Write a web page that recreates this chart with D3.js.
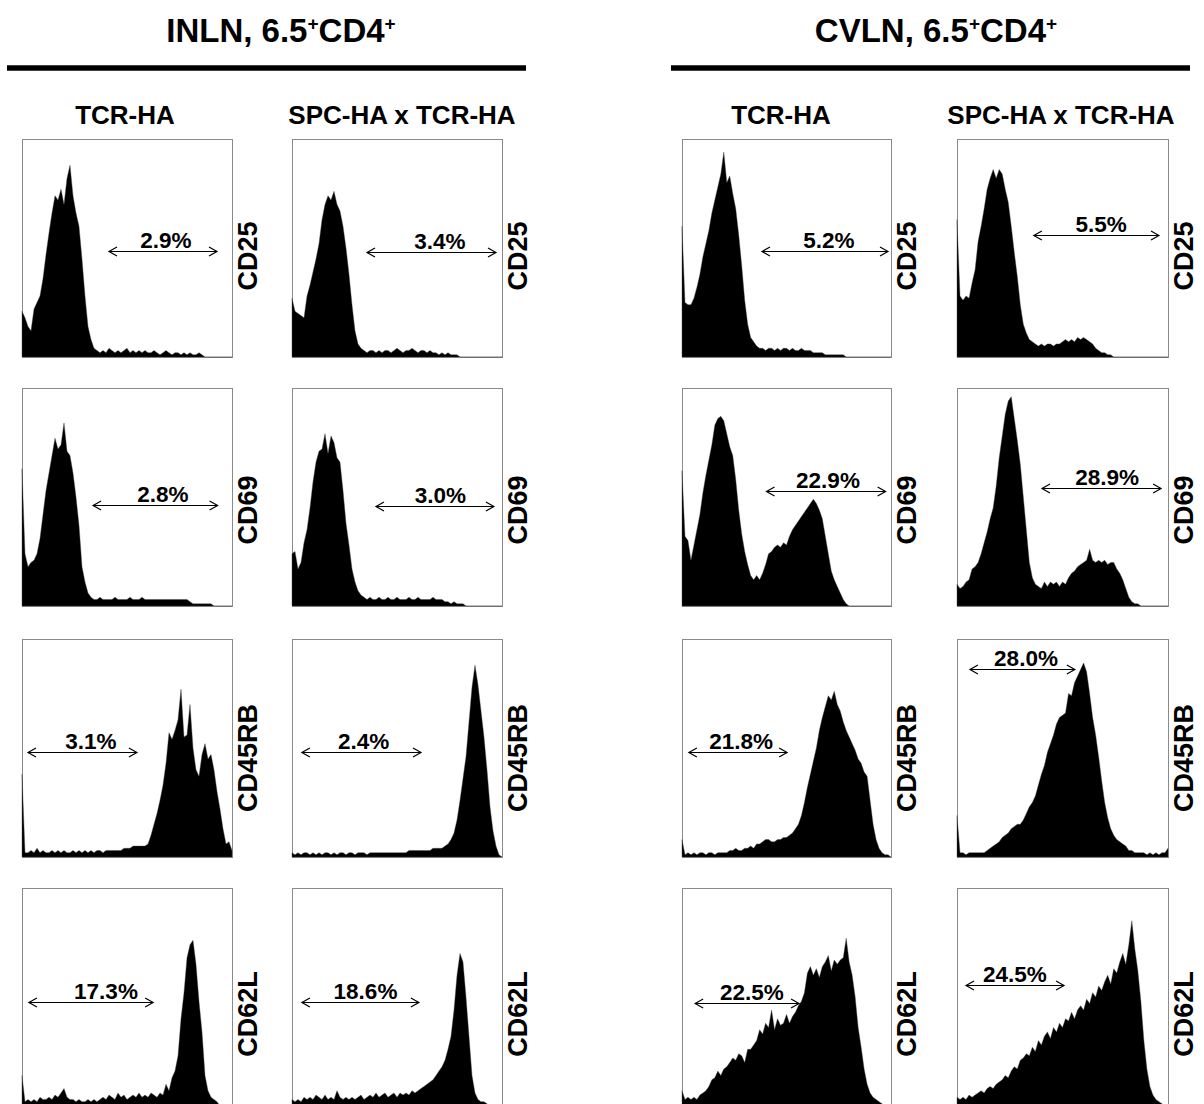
<!DOCTYPE html>
<html><head><meta charset="utf-8">
<script src="https://cdn.jsdelivr.net/npm/d3@7"></script>
<style>
body{margin:0;background:#fff}
svg{display:block}
text{font-family:"Liberation Sans",Arial,Helvetica,sans-serif;font-weight:bold;fill:#000}
</style>
</head><body>
<svg id="chart" width="1204" height="1104"></svg>
<script>
// ---------- DATA ----------
const tissues = ["INLN", "CVLN"];
const strains = ["TCR-HA", "SPC-HA x TCR-HA"];
const markers = ["CD25", "CD69", "CD45RB", "CD62L"];

// histogram counts (% of panel height), 71 channels each
const cd25_inln_tcr = [21,18,14,12,22,25,28,36,47,57,66,74,72,77,70,82,88,74,66,60,45,28,14,8,4,
 3,2,3,2,4,3,2,3,2,3,4,2,3,2,3,2,3,2,2,3,2,1,2,3,2,1,2,2,1,2,1,2,1,1,2,1,
 0,0,0,0,0,0,0,0,0,0];
const cd25_inln_spc = [27,21,20,19,18,28,33,39,45,52,63,70,74,72,76,70,67,60,50,38,24,12,6,4,
 3,2,3,3,2,3,2,3,3,2,3,4,3,2,3,3,4,3,2,3,3,2,3,2,
 2,1,2,1,2,1,1,1,
 0,0,0,0,0,0,0,0,0,0,0,0,0,0,0];
const cd25_cvln_tcr = [60,25,24,24,27,32,38,46,52,58,66,72,78,84,94,80,83,75,68,56,42,26,15,9,7,5,
 4,4,3,4,4,3,4,3,4,4,3,4,3,3,4,3,3,3,
 2,2,2,2,
 1,1,1,1,1,1,1,
 0,0,0,0,0,0,0,0,0,0,0,0,0,0,0,0];
const cd25_cvln_spc = [63,28,26,28,27,34,40,53,60,68,
 77,82,86,82,86,84,77,71,60,48,
 37,24,15,11,8,7,6,5,6,5,
 6,6,5,6,6,7,8,7,8,7,
 9,8,9,8,7,6,4,3,2,2,
 1,1,0,0,0,0,0,0,0,0,
 0,0,0,0,0,0,0,0,0,0,0];

const cd69_inln_tcr = [63,24,18,20,21,24,31,42,53,61,
 69,77,72,74,84,71,69,61,50,37,
 18,11,6,4,3,
 3,4,3,3,3,3,4,3,3,3,3,4,3,3,3,4,3,3,3,3,3,3,3,3,3,3,3,3,3,3,3,
 2,1,1,1,1,1,1,1,
 0,0,0,0,0,0,0];
const cd69_inln_spc = [24,25,17,20,29,35,45,57,66,71,
 72,79,70,78,75,68,66,53,38,28,
 17,11,7,5,4,
 3,4,3,3,4,3,3,4,3,3,4,3,3,3,4,3,3,4,3,3,3,3,4,3,3,3,
 2,2,1,2,1,1,1,
 0,0,0,0,0,0,0,0,0,0,0,0,0];
const cd69_cvln_tcr = [62,32,30,21,28,35,42,52,60,67,
 74,83,86,87,85,79,73,69,58,44,
 33,25,19,14,12,14,12,15,19,24,
 25,27,28,27,29,28,32,35,37,39,
 41,43,45,47,49,47,44,40,32,24,
 16,12,9,6,3,1,
 0,0,0,0,0,0,0,0,0,0,0,0,0,0,0];
const cd69_cvln_spc = [10,8,9,11,12,17,18,20,24,29,
 34,40,45,55,68,78,88,94,96,86,
 76,65,50,35,20,13,10,9,8,11,
 9,11,10,11,9,11,10,13,15,16,
 18,19,20,21,26,21,20,21,20,21,
 19,20,20,17,15,12,8,4,2,1,
 1,0,0,0,0,0,0,0,0,0,0];

const cd45rb_inln_tcr = [38,
 2,2,3,2,4,2,3,2,2,3,2,3,2,3,2,2,3,2,3,2,3,2,3,2,3,3,2,3,3,3,3,3,3,4,
 4,4,5,5,5,5,5,6,
 10,15,20,26,33,43,57,54,58,63,77,55,56,70,50,40,37,47,52,45,47,40,30,22,13,6,7,3];
const cd45rb_inln_spc = [2,1,2,1,2,2,1,2,1,2,1,2,2,1,2,1,2,2,1,2,2,1,2,2,2,1,2,2,2,2,2,2,2,2,2,2,
 2,2,2,3,3,3,3,3,3,3,3,4,4,4,4,5,6,8,
 11,17,26,36,46,62,78,88,79,67,55,40,23,12,5,1,0];
const cd45rb_cvln_tcr = [8,
 1,2,1,2,1,2,2,1,2,2,1,2,2,2,2,3,
 3,4,3,3,4,4,5,4,6,6,7,8,8,7,7,8,8,9,9,10,
 11,13,15,19,25,32,38,44,50,58,64,69,74,72,76,70,67,62,58,55,
 52,49,45,43,39,37,26,15,8,4,2,1,1,0];
const cd45rb_cvln_spc = [19,2,2,1,2,2,2,2,2,2,
 3,4,5,6,7,9,10,11,13,14,
 15,15,17,20,23,25,28,33,38,42,
 48,52,56,61,64,65,66,75,74,80,
 83,86,89,85,75,64,56,46,35,25,
 18,13,10,8,7,6,5,3,3,2,
 2,2,2,1,2,1,2,1,2,2,4];

const cd62l_inln_tcr = [14,2,3,2,3,2,4,3,3,4,
 3,5,4,6,8,4,3,3,2,3,
 2,2,3,2,3,2,3,4,3,5,
 4,3,6,4,5,3,4,5,4,6,
 4,5,4,6,5,4,6,5,10,7,
 13,16,23,40,52,68,74,76,65,48,
 34,14,7,4,3,2,0,0,0,0,0];
const cd62l_inln_spc = [3,2,3,2,4,3,4,3,5,4,
 3,5,3,4,3,7,4,3,4,3,
 4,3,4,5,3,4,5,4,6,4,
 5,6,4,5,6,4,6,5,6,5,
 7,6,7,8,9,10,11,12,14,16,
 18,21,26,32,44,60,70,66,50,32,
 14,6,3,2,2,1,0,0,0,0,0];
const cd62l_cvln_tcr = [7,3,4,3,4,3,5,6,7,9,
 12,13,16,14,17,18,20,22,21,24,
 23,20,26,26,28,30,35,33,38,36,
 44,35,40,37,38,42,38,41,43,46,
 48,52,61,64,60,63,59,64,66,69,
 62,67,65,67,68,77,66,60,50,36,
 27,17,10,6,4,3,2,1,0,0,0];
const cd62l_cvln_spc = [4,3,4,3,5,4,5,6,7,6,
 8,9,8,10,11,12,14,13,16,18,
 17,21,22,24,23,27,25,30,28,32,
 34,31,36,34,38,36,40,39,43,40,
 44,46,44,49,47,52,50,55,53,57,
 60,56,63,61,66,70,65,74,85,72,
 62,48,30,17,9,5,3,2,1,0,0];

// gate percentages
const pct_cd25   = ["2.9%", "3.4%", "5.2%", "5.5%"];
const pct_cd69   = ["2.8%", "3.0%", "22.9%", "28.9%"];
const pct_cd45rb = ["3.1%", "2.4%", "21.8%", "28.0%"];
const pct_cd62l  = ["17.3%", "18.6%", "22.5%", "24.5%"];

// gate ranges in channel units [start, end]
const gate_cd25   = [[29.0,65.0],[25.0,68.0],[26.8,69.0],[25.5,67.0]];
const gate_cd69   = [[23.7,65.2],[28.0,67.3],[28.3,68.2],[28.2,67.7]];
const gate_cd45rb = [[2.0,38.3],[3.3,43.0],[2.3,35.2],[4.3,39.1]];
const gate_cd62l  = [[2.3,43.7],[3.3,42.3],[4.4,39.2],[3.0,35.5]];

// ---------- LAYOUT ----------
const colX = [[22,232],[292,502],[682,891],[957,1168]];
const rowY = [[139,357],[388,606],[639,857],[888,1106]];
const gateLevel = [[48.6,48.2,48.6,56.0],[46.5,46.0,52.8,53.9],[48.2,48.2,48.2,86.2],[47.7,47.7,47.2,55.5]];
const labelPos  = [[48.0,49.3,49.2,47.8],[47.0,49.5,48.9,49.8],[23.0,23.9,19.8,22.9],[28.0,24.5,23.4,19.2]];
const markerOffset = [8, 13, 10, 17];

const hist = [
  [cd25_inln_tcr, cd25_inln_spc, cd25_cvln_tcr, cd25_cvln_spc],
  [cd69_inln_tcr, cd69_inln_spc, cd69_cvln_tcr, cd69_cvln_spc],
  [cd45rb_inln_tcr, cd45rb_inln_spc, cd45rb_cvln_tcr, cd45rb_cvln_spc],
  [cd62l_inln_tcr, cd62l_inln_spc, cd62l_cvln_tcr, cd62l_cvln_spc]
];
const pcts = [pct_cd25, pct_cd69, pct_cd45rb, pct_cd62l];
const gates = [gate_cd25, gate_cd69, gate_cd45rb, gate_cd62l];

const svg = d3.select("#chart");

// titles
const titleX = [281, 936];
tissues.forEach((t, i) => {
  const tx = svg.append("text").attr("x", titleX[i]).attr("y", 42)
    .attr("text-anchor", "middle").style("font-size", "33px");
  tx.append("tspan").text(t + ", 6.5");
  tx.append("tspan").text("+").style("font-size", "19px").attr("dy", -12);
  tx.append("tspan").text("CD4").attr("dy", 12);
  tx.append("tspan").text("+").style("font-size", "19px").attr("dy", -12);
});
const lineX = [[7,526],[671,1190]];
lineX.forEach(([a,b]) => {
  svg.append("line").attr("x1", a).attr("x2", b).attr("y1", 68).attr("y2", 68)
    .attr("stroke", "#000").attr("stroke-width", 5.5);
});
const headX = [125, 402, 781, 1061];
headX.forEach((hx, i) => {
  svg.append("text").attr("x", hx).attr("y", 124).attr("text-anchor", "middle")
    .style("font-size", "26px").text(strains[i % 2]);
});

// panels
hist.forEach((row, r) => row.forEach((vals, c) => {
  const x = d3.scaleLinear().domain([0, vals.length - 1]).range(colX[c]);
  const y = d3.scaleLinear().domain([0, 100]).range([rowY[r][1], rowY[r][0]]);
  const g = svg.append("g");
  g.append("rect")
    .attr("x", colX[c][0] + 0.5).attr("y", rowY[r][0] + 0.5)
    .attr("width", colX[c][1] - colX[c][0]).attr("height", rowY[r][1] - rowY[r][0])
    .attr("fill", "none").attr("stroke", "#8a8a8a").attr("stroke-width", 1);
  const area = d3.area().x((d, i) => x(i)).y0(y(0)).y1(d => y(d)).curve(d3.curveLinear);
  g.append("path").datum(vals).attr("d", area)
    .attr("fill", "#000").attr("stroke", "#444").attr("stroke-width", 0.4);

  // gate arrow
  const [g0, g1] = gates[r][c];
  const ay = Math.round(y(gateLevel[r][c])) + 0.5;
  const ax0 = x(g0), ax1 = x(g1);
  const ag = g.append("g").attr("stroke", "#000").attr("stroke-width", 1.2).attr("fill", "none");
  ag.append("line").attr("x1", ax0).attr("x2", ax1).attr("y1", ay).attr("y2", ay);
  ag.append("path").attr("d", `M${ax0 + 8},${ay - 4.5}L${ax0},${ay}L${ax0 + 8},${ay + 4.5}`);
  ag.append("path").attr("d", `M${ax1 - 8},${ay - 4.5}L${ax1},${ay}L${ax1 - 8},${ay + 4.5}`);
  g.append("text").attr("x", x(labelPos[r][c])).attr("y", ay - 4)
    .attr("text-anchor", "middle").style("font-size", "22.5px").text(pcts[r][c]);

  // marker label
  const mx = colX[c][1] + 25;
  const my = (rowY[r][0] + rowY[r][1]) / 2 + markerOffset[r];
  g.append("text").attr("transform", `translate(${mx},${my}) rotate(-90)`)
    .attr("text-anchor", "middle").style("font-size", "27px").text(markers[r]);
}));
</script>
</body></html>
